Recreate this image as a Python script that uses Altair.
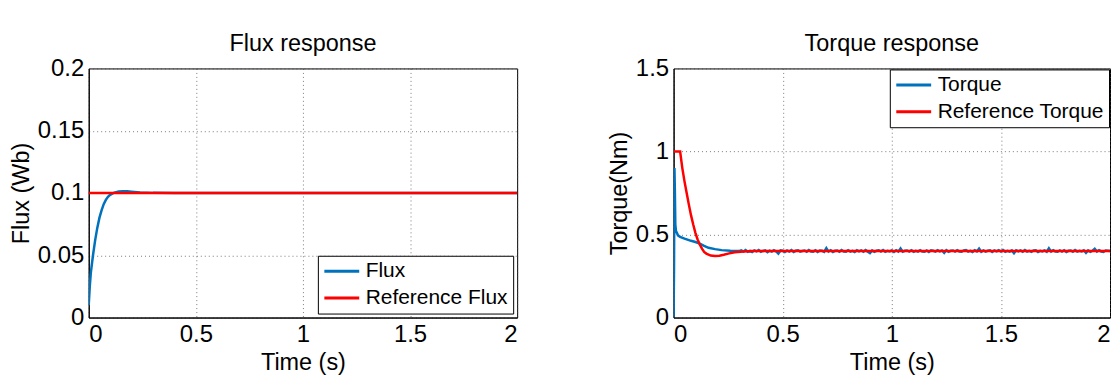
import altair as alt
import pandas as pd

# ---------------- data ----------------
flux_t = [0.0, 0.005, 0.01, 0.02, 0.03, 0.04, 0.05, 0.06, 0.07, 0.08, 0.09, 0.10,
          0.11, 0.12, 0.14, 0.16, 0.18, 0.20, 0.24, 0.30, 0.40, 2.0]
flux_v = [0.010, 0.025, 0.036, 0.050, 0.062, 0.072, 0.080, 0.086, 0.091, 0.0945, 0.097, 0.0985,
          0.0995, 0.1003, 0.1012, 0.1015, 0.1014, 0.1011, 0.1005, 0.1001, 0.1, 0.1]
flux_ref_t = [0.0, 2.0]
flux_ref_v = [0.1, 0.1]

torque_start_t = [0.0, 0.002, 0.004, 0.006, 0.008, 0.011, 0.015, 0.02, 0.03, 0.05, 0.08,
                  0.10, 0.12, 0.14, 0.16, 0.19, 0.22, 0.26]
torque_start_v = [0.0, 0.30, 0.90, 0.75, 0.56, 0.52, 0.51, 0.495, 0.485, 0.475, 0.462,
                  0.455, 0.445, 0.432, 0.42, 0.412, 0.406, 0.402]
# settled torque from t = 0.30 s to 2.00 s, every 0.01 s, deviation from 0.400 in thousandths
torque_dev = [0, 5, -3, 6, -4, 2, -5, 4, -2, 6, -4, 1, 5, -6, 3, -3, 5, -2, -15, 4,
              2, -5, 4, -3, 6, -5, 2, 5, -3, 1, 4, -4, 6, -2, -3, 5, -5, 3, 2, -4,
              18, -3, 5, -5, 2, 4, -4, 6, -2, -3, 5, -3, 2, -5, 5, -2, 4, -4, 6, -3,
              -12, 4, -4, 2, 5, -3, 6, -4, 2, -2, 4, -5, 5, -3, 16, -4, 2, 4, -3, 5,
              -4, 2, -3, 6, -2, -4, 4, -5, 5, 2, -3, 5, -2, 4, -10, 6, -4, 2, 4, -3,
              5, -2, -4, 4, 6, -3, 2, -5, 5, -2, 15, -4, 4, -3, 2, 5, -5, 4, -2, 5,
              -3, 6, -4, 2, -3, 4, -13, 5, -2, 4, -4, 6, -3, 2, -4, 4, 5, -5, 2, -2,
              4, -4, 17, -3, 6, -2, -4, 4, -3, 5, -5, 2, 4, -4, 6, -3, 2, -2, 5, -11,
              4, -4, 2, 14, -3, 5, -2, -5, 4, 2, 0]
torque_ref_t = [0.0, 0.03, 0.04, 0.05, 0.06, 0.07, 0.08, 0.09, 0.10, 0.11, 0.12, 0.13,
                0.14, 0.15, 0.17, 0.19, 0.21, 0.23, 0.25, 0.28, 0.32, 0.36, 0.40, 2.0]
torque_ref_v = [1.0, 1.0, 0.90, 0.82, 0.75, 0.68, 0.615, 0.56, 0.51, 0.47, 0.44, 0.415,
                0.395, 0.385, 0.373, 0.37, 0.372, 0.378, 0.385, 0.393, 0.398, 0.40, 0.40, 0.40]

flux_names = ["Flux", "Reference Flux"]
torque_names = ["Torque", "Reference Torque"]
x_ticks = [0, 0.5, 1, 1.5, 2]
flux_ticks = [0, 0.05, 0.1, 0.15, 0.2]
torque_ticks = [0, 0.5, 1, 1.5]

# ---------------- tables ----------------
settled_t = [round(0.30 + 0.01 * i, 2) for i in range(len(torque_dev))]
settled_v = [0.400 + d / 1000.0 for d in torque_dev]

df_flux = pd.DataFrame({"t": flux_t, "v": flux_v, "series": flux_names[0]})
df_flux_ref = pd.DataFrame({"t": flux_ref_t, "v": flux_ref_v, "series": flux_names[1]})
df_torque = pd.DataFrame({"t": torque_start_t + settled_t, "v": torque_start_v + settled_v,
                          "series": torque_names[0]})
df_torque_ref = pd.DataFrame({"t": torque_ref_t, "v": torque_ref_v, "series": torque_names[1]})

FONT = "Liberation Sans"
BLUE = "#0072BD"
RED = "#FF0000"


def panel(df_a, df_b, names, ydom, yticks, ytitle, title, lorient, loffset, width):
    legend = alt.Legend(title=None, orient=lorient, offset=loffset, strokeColor="black",
                        fillColor="white", padding=5, symbolType="stroke", symbolSize=1225,
                        symbolStrokeWidth=3, labelFontSize=21, labelFont=FONT,
                        labelColor="black", rowPadding=5, labelOffset=5, labelLimit=400,
                        clipHeight=21)
    color = alt.Color("series:N", scale=alt.Scale(domain=names, range=[BLUE, RED]),
                      legend=legend)
    x = alt.X("t:Q", scale=alt.Scale(domain=[0, 2], nice=False),
              axis=alt.Axis(values=x_ticks, title="Time (s)", format="~g"))
    y = alt.Y("v:Q", scale=alt.Scale(domain=ydom, nice=False),
              axis=alt.Axis(values=yticks, title=ytitle, format="~g"))
    a = alt.Chart(df_a).mark_line(strokeWidth=2.5, clip=True).encode(x=x, y=y, color=color)
    b = alt.Chart(df_b).mark_line(strokeWidth=2.5, clip=True).encode(x=x, y=y, color=color)
    return alt.layer(a, b).properties(
        width=width, height=250,
        title=alt.TitleParams(title, fontSize=23.5, font=FONT, fontWeight="normal",
                              color="black", offset=1))


left = panel(df_flux, df_flux_ref, flux_names, [0, 0.2], flux_ticks, "Flux (Wb)",
             "Flux response", "bottom-right", 4, 430)
right = panel(df_torque, df_torque_ref, torque_names, [0, 1.5], torque_ticks, "Torque(Nm)",
              "Torque response", "top-right", 1, 438)

chart = alt.hconcat(left, right, spacing=89).resolve_scale(color="independent").configure(
    padding={"left": 0, "top": 23, "right": 0, "bottom": 0},
    background="white",
).configure_view(
    stroke="black", strokeWidth=1
).configure_axis(
    labelFont=FONT, titleFont=FONT, labelFontSize=24, titleFontSize=23.5,
    labelColor="black", titleColor="black", titleFontWeight="normal",
    domainColor="black", ticks=False, labelPadding=5,
    gridColor="#444444", gridDash=[1, 3], gridOpacity=0.7, gridWidth=1, titlePadding=4,
)

chart.save("out.html", embed_options={"renderer": "svg", "actions": False})
